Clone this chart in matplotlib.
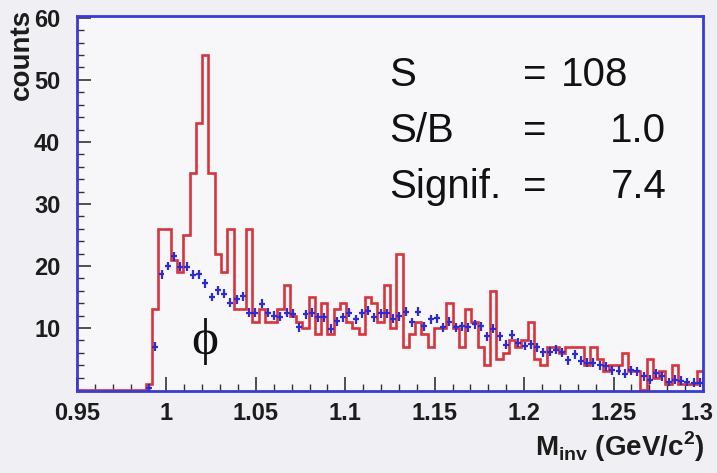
import numpy as np
import matplotlib
matplotlib.use("Agg")
import matplotlib.pyplot as plt
from matplotlib.ticker import MultipleLocator, FuncFormatter

# Binning: 100 bins, 0.95 .. 1.30 GeV/c^2
x_lo, x_hi, n_bins = 0.95, 1.30, 100

# Same-event K+K- spectrum (red histogram), counts per bin
signal_counts = [
    0, 0, 0, 0, 0, 0, 0, 0, 0, 0,
    0, 1, 13, 26, 26, 21, 19, 25, 35, 43,
    54, 35, 22, 19, 26, 13, 13, 26, 11, 13,
    11, 11, 13, 17, 12, 11, 10, 15, 9, 14,
    9, 13, 14, 11, 10, 9, 15, 14, 11, 17,
    10, 22, 7, 9, 11, 9, 7, 10, 10, 14,
    10, 7, 13, 11, 7, 4, 16, 5, 6, 8,
    7, 8, 11, 5, 4, 7, 7, 6, 7, 7,
    7, 4, 7, 5, 3, 4, 4, 6, 3, 3,
    0, 5, 2, 3, 1, 4, 1, 1, 1, 3,
]

# Mixed-event background (blue crosses), NaN = no point
background = [
    np.nan, np.nan, np.nan, np.nan, np.nan, np.nan, np.nan, np.nan, np.nan, np.nan,
    np.nan, 0.3, 7.0, 18.7, 20.0, 21.6, 19.9, 19.9, 18.6, 18.7,
    17.2, 15.0, 16.1, 15.5, 14.1, 14.6, 15.1, 12.5, 12.5, 13.9,
    12.5, 12.0, 11.8, 12.5, 12.3, 10.1, 12.2, 12.5, 11.7, 11.7,
    9.9, 11.1, 11.7, 12.5, 11.4, 12.4, 12.8, 11.7, 12.4, 12.4,
    11.5, 11.9, 12.6, 10.9, 12.6, 10.3, 11.4, 11.6, 10.1, 11.0,
    10.1, 10.3, 10.1, 10.6, 10.3, 8.7, 9.9, 8.7, 7.3, 8.9,
    7.6, 7.1, 7.4, 6.9, 6.1, 6.2, 6.5, 6.1, 4.8, 5.8,
    4.7, 4.4, 4.4, 4.0, 3.8, 3.2, 3.1, 2.6, 3.2, 3.0,
    2.2, 1.7, 2.7, 2.2, 1.3, 1.7, 1.5, 1.3, 1.2, 1.2,
]

stat_names = ["S", "S/B", "Signif."]
stat_values = ["108", "1.0", "7.4"]

RED = "#d8343c"
BLUE = "#2c2cd2"
FRAME = "#3b3bcf"
INK = "#1c1c1c"

plt.rcParams["font.family"] = ["Liberation Sans", "DejaVu Sans"]
plt.rcParams["mathtext.fontset"] = "custom"
plt.rcParams["mathtext.rm"] = "Liberation Sans:bold"
plt.rcParams["mathtext.bf"] = "Liberation Sans:bold"

fig = plt.figure(figsize=(7.17, 4.73), dpi=100)
fig.patch.set_facecolor("#f0f0f4")
ax = fig.add_axes([0.1074, 0.1734, 0.8731, 0.7928])
ax.set_facecolor("#f7f7fa")

edges = np.linspace(x_lo, x_hi, n_bins + 1)
centers = 0.5 * (edges[:-1] + edges[1:])
half_w = 0.5 * (edges[1] - edges[0])

ax.stairs(signal_counts, edges, color=RED, lw=1.9, zorder=2)
ax.errorbar(centers, background, xerr=0.95 * half_w, yerr=0.72,
            fmt="none", ecolor=BLUE, elinewidth=1.6, capsize=0, zorder=3)

ax.set_xlim(x_lo, x_hi)
ax.set_ylim(-0.15, 60.3)

# ticks: inward, major + minor, no "0" on y.
# the "1.3" label would run off the figure edge, so it is drawn separately below
ax.xaxis.set_major_locator(MultipleLocator(0.05))
ax.xaxis.set_minor_locator(MultipleLocator(0.01))
ax.xaxis.set_major_formatter(FuncFormatter(
    lambda v, _: "" if abs(v - x_hi) < 1e-9 else f"{v:g}"))
ax.set_yticks([10, 20, 30, 40, 50, 60])
ax.yaxis.set_minor_locator(MultipleLocator(2))
ax.tick_params(which="major", direction="in", length=10, width=1.2,
               color="#333333", labelsize=17, labelcolor=INK)
ax.tick_params(which="minor", direction="in", length=5, width=1.0,
               color="#333333")
ax.tick_params(axis="y", which="major", pad=12)
ax.tick_params(axis="x", which="major", pad=8)
for lab in ax.get_xticklabels() + ax.get_yticklabels():
    lab.set_fontweight("bold")

ax.annotate(f"{x_hi:g}", xy=(x_hi, 0), xycoords=("data", "axes fraction"),
            xytext=(-4, -8), textcoords="offset points", ha="center", va="top",
            fontsize=17, fontweight="bold", color=INK, annotation_clip=False)

for sp in ax.spines.values():
    sp.set_color(FRAME)
    sp.set_linewidth(2.0)

# axis titles
fig.text(0.030, 0.982, "counts", rotation=90, ha="center", va="top",
         fontsize=20, fontweight="bold", color=INK)
fig.text(0.983, 0.02, r"M$_{\mathrm{inv}}$ (GeV/c$^{\mathrm{2}}$)",
         ha="right", va="bottom", fontsize=20, fontweight="bold", color=INK)

# phi label
ax.text(1.0213, 7.9, "\u03d5", fontsize=37, family=["Liberation Serif", "DejaVu Serif"],
        ha="center", va="center", color="#111111")

# S, S/B, significance block
for i, (name, val) in enumerate(zip(stat_names, stat_values)):
    y = 50.8 - i * 9.0
    ax.text(1.1245, y, name, fontsize=29, color="#111111", va="center", ha="left")
    ax.text(1.2058, y, "=", fontsize=29, color="#111111", va="center", ha="center")
    if i == 0:
        ax.text(1.2205, y, val, fontsize=29, color="#111111", va="center", ha="left")
    else:
        ax.text(1.2795, y, val, fontsize=29, color="#111111", va="center", ha="right")

fig.savefig("out.png", dpi=100, facecolor=fig.get_facecolor())
